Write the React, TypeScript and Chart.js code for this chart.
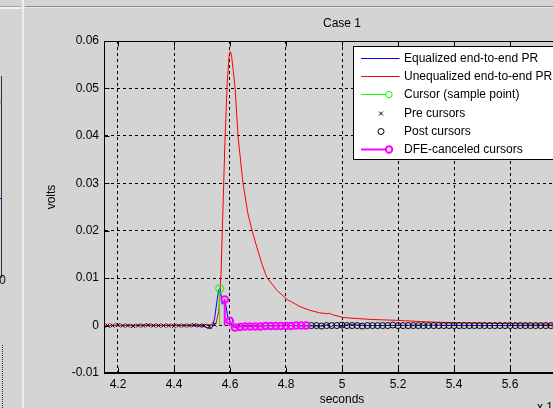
import React, { useEffect, useRef } from "react";
import { Chart, registerables } from "chart.js";

Chart.register(...registerables);

// ---- axis setup ----
const xTicks = [4.2, 4.4, 4.6, 4.8, 5, 5.2, 5.4, 5.6, 5.8];
const yTicks = [-0.01, 0, 0.01, 0.02, 0.03, 0.04, 0.05, 0.06];
const xMin = 4.15;
const xMax = 5.85;
const yMin = -0.01;
const yMax = 0.06;

// ---- unequalized end-to-end pulse response (red) ----
const unequalizedX = [4.15, 4.3, 4.45, 4.53, 4.55, 4.56, 4.568, 4.575, 4.582, 4.59, 4.597, 4.6, 4.605, 4.612, 4.618, 4.629, 4.646, 4.664, 4.679, 4.696, 4.715, 4.732, 4.768, 4.804, 4.85, 4.886, 4.92, 4.945, 4.955, 4.965, 5.004, 5.05, 5.1, 5.196, 5.3, 5.4, 5.5, 5.6, 5.85];
const unequalizedY = [0, 0, 0.0001, 0.0002, 0.0005, 0.003, 0.011, 0.025, 0.039, 0.051, 0.0572, 0.0578, 0.0572, 0.0535, 0.0502, 0.0397, 0.0302, 0.0236, 0.02, 0.0165, 0.0128, 0.0101, 0.0074, 0.0055, 0.004, 0.0032, 0.0027, 0.0025, 0.0026, 0.0023, 0.0017, 0.0015, 0.0013, 0.0011, 0.0008, 0.0006, 0.0005, 0.0004, 0.0002];

// ---- equalized end-to-end pulse response (blue) ----
const equalizedX = [4.15, 4.3, 4.45, 4.5, 4.527, 4.535, 4.545, 4.553, 4.56, 4.564, 4.568, 4.572, 4.577, 4.581, 4.586, 4.592, 4.6, 4.608, 4.618, 4.64, 4.7, 4.8, 4.93, 4.95, 4.96, 4.97, 5.0, 5.02, 5.1, 5.3, 5.5, 5.85];
const equalizedY = [0, 0.0001, 0, -0.0001, -0.0006, -0.0005, 0.0015, 0.005, 0.0076, 0.0078, 0.0065, 0.0045, 0.0047, 0.0055, 0.004, 0.0018, 0.001, -0.0002, -0.0004, -0.0002, -0.0001, 0, -0.0001, 0.0002, -0.0003, 0.0001, -0.0002, 0.0002, 0, 0.0001, 0, 0];

// ---- sampled cursors ----
const cursorTime = 4.563;
const cursorValue = 0.0078;
const samplePeriod = 0.0182;
// pre cursors, k = -22 .. -1
const preCursorValues = [0, 0, 0.0001, 0, 0, -0.0001, 0, 0, 0.0001, 0, 0, 0, 0, -0.0001, 0, 0, 0, 0.0001, 0, 0, -0.0003, 0.0002];
// DFE-canceled cursors, k = 1 .. 17
const dfeCanceledValues = [0.0055, 0.001, -0.0004, -0.0003, -0.0002, -0.0002, -0.0002, -0.0002, -0.0001, -0.0001, -0.0001, -0.0001, -0.0001, -0.0001, 0, 0, 0];
// post cursors, k = 18 .. 70
const postCursorValues = [0, 0, -0.0001, 0, 0, 0, 0.0001, 0, 0, 0, -0.0001, 0, 0, 0, 0, 0, 0.0001, 0, 0, 0, 0, 0, 0, 0, 0, 0, 0, 0, 0, 0, 0, 0, 0, 0, 0, 0, 0, 0, 0, 0, 0, 0, 0, 0, 0, 0, 0, 0, 0, 0, 0, 0, 0];

const labels = [
  "Equalized end-to-end PR",
  "Unequalized end-to-end PR",
  "Cursor (sample point)",
  "Pre cursors",
  "Post cursors",
  "DFE-canceled cursors",
];

const FONT = "'Liberation Sans', Arial, sans-serif";

const sampleTime = (k: number) => cursorTime + k * samplePeriod;

function buildData() {
  const pre = preCursorValues.map((v, i) => ({ x: sampleTime(i - preCursorValues.length), y: v }));
  const dfe = dfeCanceledValues.map((v, i) => ({ x: sampleTime(i + 1), y: v }));
  const post = postCursorValues.map((v, i) => ({ x: sampleTime(i + 1 + dfeCanceledValues.length), y: v }));
  const stems: any[] = [];
  dfe.forEach((p) => {
    stems.push({ x: p.x, y: 0 }, { x: p.x, y: p.y }, { x: p.x, y: null });
  });
  return {
    datasets: [
      {
        label: labels[0],
        data: equalizedX.map((x, i) => ({ x, y: equalizedY[i] })),
        showLine: true,
        borderColor: "#0000ff",
        borderWidth: 1,
        pointRadius: 0,
        order: 6,
      },
      {
        label: labels[1],
        data: unequalizedX.map((x, i) => ({ x, y: unequalizedY[i] })),
        showLine: true,
        borderColor: "#ff0000",
        borderWidth: 1,
        pointRadius: 0,
        order: 5,
      },
      {
        label: labels[2],
        data: [
          { x: cursorTime, y: 0 },
          { x: cursorTime, y: cursorValue },
        ],
        showLine: true,
        borderColor: "#00ff00",
        borderWidth: 1,
        pointRadius: (c: any) => (c.dataIndex === 1 ? 4 : 0),
        pointBorderColor: "#00ff00",
        pointBackgroundColor: "rgba(0,0,0,0)",
        pointBorderWidth: 1,
        order: 4,
      },
      {
        label: labels[3],
        data: pre,
        showLine: false,
        pointStyle: "crossRot",
        pointRadius: 2.8,
        pointBorderColor: "#000",
        pointBorderWidth: 1,
        order: 3,
      },
      {
        label: labels[4],
        data: post,
        showLine: false,
        pointStyle: "circle",
        pointRadius: 3,
        pointBorderColor: "#000",
        pointBackgroundColor: "rgba(0,0,0,0)",
        pointBorderWidth: 1,
        order: 2,
      },
      {
        label: labels[5],
        data: stems,
        showLine: true,
        spanGaps: false,
        borderColor: "#ff00ff",
        borderWidth: 2,
        pointRadius: 0,
        order: 1,
      },
      {
        label: labels[5] + " markers",
        data: dfe,
        showLine: false,
        pointStyle: "circle",
        pointRadius: 3.3,
        pointBorderColor: "#ff00ff",
        pointBackgroundColor: "rgba(0,0,0,0)",
        pointBorderWidth: 2,
        order: 0,
      },
    ],
  };
}

const framePlugin = {
  id: "matlabFrame",
  afterDraw(chart: any) {
    const { ctx, chartArea: a } = chart;
    const xs = chart.scales.x;
    const ys = chart.scales.y;
    ctx.save();
    // box
    ctx.strokeStyle = "#000";
    ctx.lineWidth = 1;
    ctx.setLineDash([]);
    const L = Math.round(a.left) + 0.5;
    const R = Math.round(a.right) - 0.5;
    const T = Math.round(a.top) + 0.5;
    const B = Math.round(a.bottom) - 0.5;
    ctx.strokeRect(L, T, R - L, B - T);
    // inward ticks
    ctx.beginPath();
    xTicks.forEach((v) => {
      const px = Math.round(xs.getPixelForValue(v)) + 0.5;
      ctx.moveTo(px, B);
      ctx.lineTo(px, B - 5);
      ctx.moveTo(px, T);
      ctx.lineTo(px, T + 5);
    });
    yTicks.forEach((v) => {
      const py = Math.round(ys.getPixelForValue(v)) + 0.5;
      ctx.moveTo(L, py);
      ctx.lineTo(L + 5, py);
      ctx.moveTo(R, py);
      ctx.lineTo(R - 5, py);
    });
    ctx.stroke();

    // titles
    ctx.fillStyle = "#000";
    ctx.font = `12px ${FONT}`;
    ctx.textAlign = "center";
    ctx.textBaseline = "middle";
    const cx = (a.left + a.right) / 2;
    ctx.fillText("Case 1", cx, 24);
    ctx.fillText("seconds", cx, 400);
    ctx.save();
    ctx.translate(52, 197);
    ctx.rotate(-Math.PI / 2);
    ctx.fillText("volts", 0, 0);
    ctx.restore();
    ctx.textAlign = "left";
    ctx.textBaseline = "top";
    ctx.fillText("x 10", 537, 402);

    // legend
    const lx = Math.round(a.left) + 249.5;
    const ly = Math.round(a.top) + 5.5;
    const lw = 222;
    const lh = 113;
    ctx.fillStyle = "#fff";
    ctx.fillRect(lx, ly, lw, lh);
    ctx.strokeStyle = "#000";
    ctx.lineWidth = 1;
    ctx.strokeRect(lx, ly, lw, lh);
    const rowY = [58, 76, 94, 113, 131, 149];
    const x0 = lx + 7.5;
    const x1 = lx + 46;
    const mx = lx + 35.5;
    const mxc = lx + 27.5;
    ctx.textBaseline = "middle";
    labels.forEach((text, i) => {
      const y = rowY[i] + 0.5;
      ctx.lineWidth = 1;
      if (i === 0 || i === 1) {
        ctx.strokeStyle = i === 0 ? "#0000ff" : "#ff0000";
        ctx.beginPath();
        ctx.moveTo(x0, y);
        ctx.lineTo(x1, y);
        ctx.stroke();
      } else if (i === 2 || i === 5) {
        const col = i === 2 ? "#00ff00" : "#ff00ff";
        ctx.strokeStyle = col;
        ctx.lineWidth = i === 5 ? 2 : 1;
        ctx.beginPath();
        ctx.moveTo(x0, y);
        ctx.lineTo(mx - 3, y);
        ctx.stroke();
        ctx.lineWidth = i === 5 ? 2 : 1;
        ctx.beginPath();
        ctx.arc(mx, y, 3.2, 0, Math.PI * 2);
        ctx.stroke();
      } else if (i === 3) {
        ctx.strokeStyle = "#000";
        ctx.beginPath();
        ctx.moveTo(mxc - 2, y - 2);
        ctx.lineTo(mxc + 2, y + 2);
        ctx.moveTo(mxc + 2, y - 2);
        ctx.lineTo(mxc - 2, y + 2);
        ctx.stroke();
      } else if (i === 4) {
        ctx.strokeStyle = "#000";
        ctx.beginPath();
        ctx.arc(mxc, y, 3, 0, Math.PI * 2);
        ctx.stroke();
      }
      ctx.fillStyle = "#000";
      ctx.font = `12px ${FONT}`;
      ctx.fillText(text, lx + 50.5, y);
    });
    ctx.restore();
  },
};

export default function App() {
  const ref = useRef<HTMLCanvasElement | null>(null);
  useEffect(() => {
    if (!ref.current) return;
    const fmtY = (v: any) => {
      const n = Number(v);
      if (Math.abs(n) < 1e-9) return "0";
      return String(+n.toFixed(2));
    };
    const fmtX = (v: any) => String(+Number(v).toFixed(1));
    const tickFont = { family: FONT, size: 12 };
    const chart = new Chart(ref.current, {
      type: "scatter",
      data: buildData() as any,
      options: {
        animation: false,
        responsive: false,
        devicePixelRatio: 1,
        layout: { padding: { left: 0, top: 41, right: 20, bottom: 0 } },
        plugins: {
          legend: { display: false },
          title: { display: false },
          tooltip: { enabled: false },
        },
        scales: {
          x: {
            type: "linear",
            min: xMin,
            max: xMax,
            afterBuildTicks: (s: any) => {
              s.ticks = xTicks.map((v) => ({ value: v }));
            },
            afterFit: (s: any) => {
              s.height = 35;
            },
            grid: { color: "#000", lineWidth: 1, drawTicks: false },
            border: { display: true, color: "#000", width: 1, dash: [3, 3] },
            ticks: {
              padding: 4,
              color: "#000",
              font: tickFont,
              maxRotation: 0,
              autoSkip: false,
              callback: fmtX,
            },
          },
          y: {
            type: "linear",
            min: yMin,
            max: yMax,
            afterBuildTicks: (s: any) => {
              s.ticks = yTicks.map((v) => ({ value: v }));
            },
            afterFit: (s: any) => {
              s.width = 104;
            },
            grid: { color: "#000", lineWidth: 1, drawTicks: false },
            border: { display: true, color: "#000", width: 1, dash: [3, 3] },
            ticks: {
              padding: 5,
              color: "#000",
              font: tickFont,
              autoSkip: false,
              callback: fmtY,
            },
          },
        },
      } as any,
      plugins: [framePlugin],
    });
    return () => chart.destroy();
  }, []);

  return (
    <div
      style={{
        position: "fixed",
        left: 0,
        top: 0,
        width: 553,
        height: 408,
        overflow: "hidden",
        background: "#d4d4d4",
      }}
    >
      {/* panel edges */}
      <div style={{ position: "absolute", left: 0, top: 6, width: 21, height: 1, background: "#a0a0a0" }} />
      <div style={{ position: "absolute", left: 0, top: 7, width: 21, height: 2, background: "#f4f4f4" }} />
      <div style={{ position: "absolute", left: 25, top: 6, width: 528, height: 1, background: "#8c8c8c" }} />
      <div style={{ position: "absolute", left: 25, top: 7, width: 528, height: 1, background: "#e8e8e8" }} />
      <div style={{ position: "absolute", left: 22, top: 0, width: 2, height: 408, background: "#eeeeee" }} />
      {/* remnant of neighbouring axes */}
      <div style={{ position: "absolute", left: 1, top: 76, width: 1, height: 202, background: "#303030" }} />
      <div style={{ position: "absolute", left: 0, top: 102, width: 2, height: 1, background: "#ff00ff" }} />
      <div style={{ position: "absolute", left: 0, top: 198, width: 2, height: 1, background: "#0000ff" }} />
      <div
        style={{
          position: "absolute",
          left: -1,
          top: 273,
          fontFamily: FONT,
          fontSize: 12,
          lineHeight: "14px",
          color: "#000",
        }}
      >
        0
      </div>
      <div style={{ position: "absolute", left: 2, top: 345, width: 0, height: 63, borderLeft: "1px dotted #333" }} />
      <canvas
        ref={ref}
        width={600}
        height={408}
        style={{ position: "absolute", left: 0, top: 0, width: 600, height: 408 }}
      />
    </div>
  );
}
